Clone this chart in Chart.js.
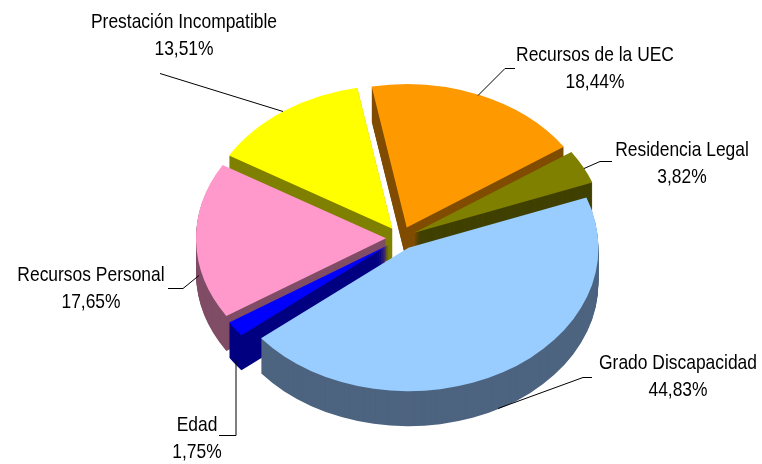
<!DOCTYPE html>
<html>
<head>
<meta charset="utf-8">
<script src="https://cdn.jsdelivr.net/npm/chart.js@4"></script>
<style>
  html, body { margin: 0; padding: 0; background: #ffffff; }
  #wrap { width: 762px; height: 464px; }
</style>
</head>
<body>
<div id="wrap"><canvas id="myChart"></canvas></div>
<script>
// chart data
var categories = ['Grado Discapacidad', 'Edad', 'Recursos Personal', 'Prestación Incompatible', 'Recursos de la UEC', 'Residencia Legal'];
var percentages = [44.83, 1.75, 17.65, 13.51, 18.44, 3.82];

// slice colours, top face and side wall
var topColors = ['#99ccff', '#0000ff', '#ff99cc', '#ffff00', '#ff9900', '#808000'];
var sideColors = ['#4d6480', '#000080', '#804d66', '#808000', '#804d00', '#404000'];

// label centres and leader lines, same order as categories
var labelCenters = [[678, 363], [197, 425], [91, 275], [184, 22], [595, 55], [682, 150]];
var leaders = [
  [[592, 377], [583, 377], [498, 408]],
  [[219, 435], [236, 435], [236, 360]],
  [[168, 288], [183, 288], [199, 275]],
  [[160, 73], [283, 111]],
  [[515, 68], [505, 68], [478, 95]],
  [[612, 161], [600, 161], [584, 168]]
];

// fake 3D settings
var tilt = 0.755;
var depth = 35;
var explode = 15;
var pieX = 401;
var pieY = 238;

function formatPercent(v) {
  return v.toFixed(2).replace('.', ',') + '%';
}

function drawArcWithColor(ctx, arc, color) {
  var saved = arc.options;
  arc.options = Object.assign({}, saved, { backgroundColor: color, borderColor: color });
  arc.draw(ctx);
  arc.options = saved;
}

// Labels in the picture are tall and narrow, so squeeze Liberation Sans sideways.
function drawLabel(ctx, text, x, y) {
  ctx.save();
  ctx.translate(x, y);
  ctx.scale(0.83, 1);
  ctx.fillText(text, 0, 0);
  ctx.restore();
}

// Draws the pie squashed, with stacked copies underneath for the wall.
var tiltedPie = {
  id: 'tiltedPie',
  beforeDatasetsDraw: function (chart) {
    var ctx = chart.ctx;
    var arcs = chart.getDatasetMeta(0).data;
    for (var d = depth; d >= 0; d--) {
      for (var i = 0; i < arcs.length; i++) {
        var arc = arcs[i];
        var mid = (arc.startAngle + arc.endAngle) / 2;
        ctx.save();
        ctx.translate(pieX, pieY + d);
        ctx.scale(1, tilt);
        ctx.translate(Math.cos(mid) * explode, Math.sin(mid) * explode);
        ctx.translate(-arc.x, -arc.y);
        drawArcWithColor(ctx, arc, d === 0 ? topColors[i] : sideColors[i]);
        ctx.restore();
      }
    }
    return false;
  },
  afterDraw: function (chart) {
    var ctx = chart.ctx;
    ctx.save();
    ctx.strokeStyle = '#000000';
    ctx.lineWidth = 1;
    leaders.forEach(function (line) {
      ctx.beginPath();
      line.forEach(function (p, n) {
        if (n === 0) ctx.moveTo(p[0], p[1] + 0.5);
        else ctx.lineTo(p[0], p[1] + 0.5);
      });
      ctx.stroke();
    });
    ctx.fillStyle = '#000000';
    ctx.font = '21px "Liberation Sans"';
    ctx.textAlign = 'center';
    ctx.textBaseline = 'middle';
    categories.forEach(function (name, i) {
      drawLabel(ctx, name, labelCenters[i][0], labelCenters[i][1]);
      drawLabel(ctx, formatPercent(percentages[i]), labelCenters[i][0], labelCenters[i][1] + 27);
    });
    ctx.restore();
  }
};

const ctx = document.getElementById('myChart').getContext('2d');
const myChart = new Chart(ctx, {
  type: 'pie',
  data: {
    labels: categories,
    datasets: [{
      data: percentages,
      backgroundColor: topColors,
      borderWidth: 0
    }]
  },
  options: {
    responsive: true,
    maintainAspectRatio: false,
    animation: false,
    rotation: 69.5,
    layout: { padding: { top: 42, bottom: 42 } },
    plugins: {
      legend: { display: false },
      tooltip: { enabled: false }
    }
  },
  plugins: [tiltedPie]
});
</script>
</body>
</html>
